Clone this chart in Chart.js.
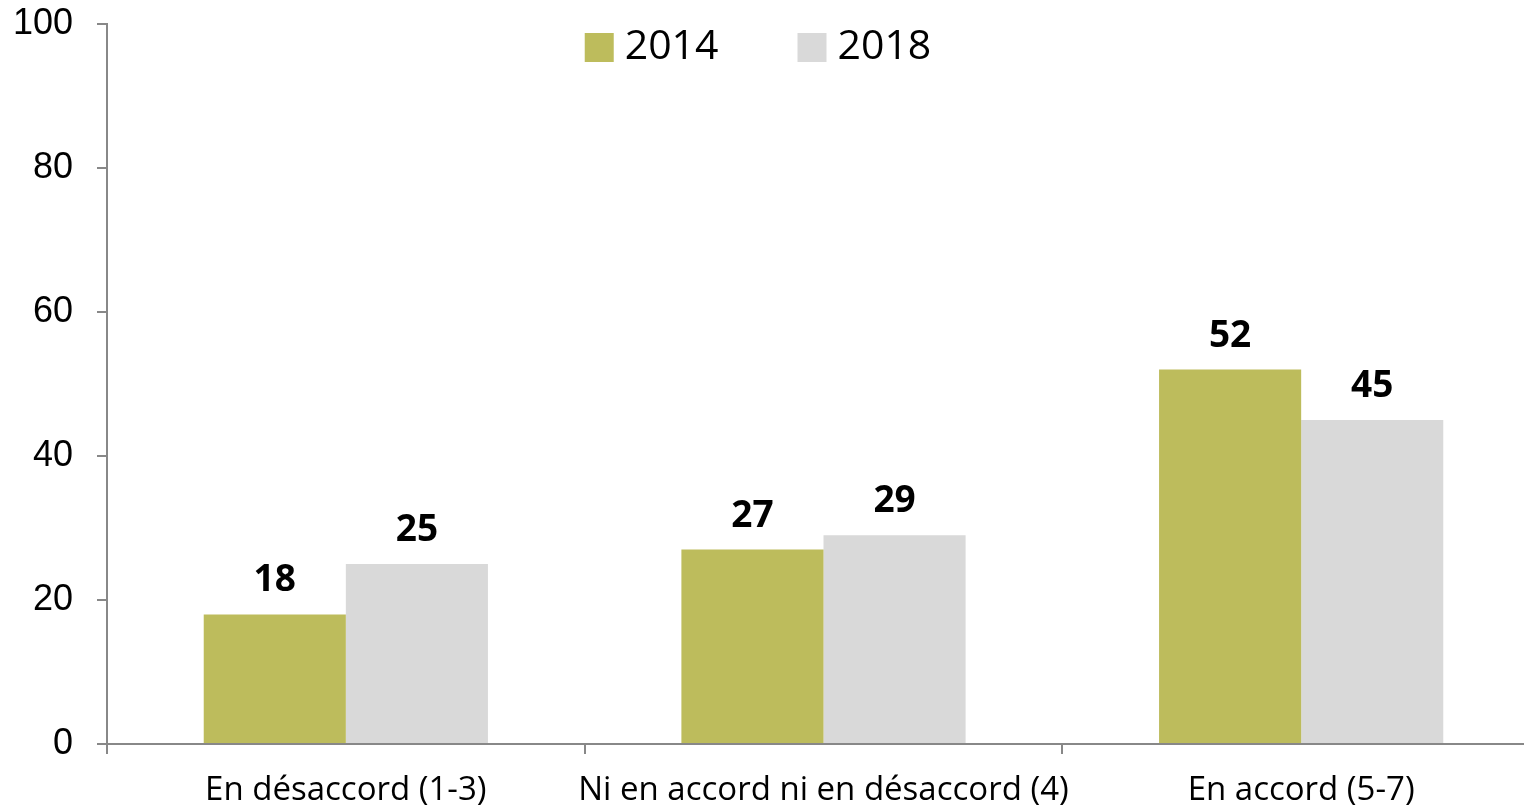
<!DOCTYPE html>
<html><head><meta charset="utf-8">
<script src="https://cdn.jsdelivr.net/npm/chart.js@4"></script>
<style>
html,body{margin:0;padding:0;overflow:hidden;background:#fff;}
#wrap{position:relative;width:1540px;height:812px;}
</style></head>
<body><div id="wrap"><canvas id="c"></canvas></div>
<script>
const categories = ["En désaccord (1-3)", "Ni en accord ni en désaccord (4)", "En accord (5-7)"];
const seriesNames = ["2014", "2018"];
const values2014 = [18, 27, 52];
const values2018 = [25, 29, 45];
const yTicks = [0, 20, 40, 60, 80, 100];
const colors = ["#BDBC5C", "#D9D9D9"];

const valueLabels = {
  id: 'valueLabels',
  afterDatasetsDraw(chart) {
    const ctx = chart.ctx;
    ctx.save();
    ctx.font = 'bold 37px "Open Sans"';
    ctx.fillStyle = '#000';
    ctx.textAlign = 'center';
    ctx.textBaseline = 'alphabetic';
    chart.data.datasets.forEach((ds, i) => {
      chart.getDatasetMeta(i).data.forEach((bar, j) => {
        ctx.fillText(String(ds.data[j]), bar.x, bar.y - 23);
      });
    });
    ctx.restore();
  }
};

const customLegend = {
  id: 'customLegend',
  afterDraw(chart) {
    const ctx = chart.ctx;
    ctx.save();
    ctx.font = '41px "Open Sans"';
    ctx.textBaseline = 'middle';
    const box = 29, gapText = 11, gapItem = 79;
    const widths = chart.data.datasets.map(ds => box + gapText + ctx.measureText(ds.label).width);
    const total = widths.reduce((a, b) => a + b, 0) + gapItem * (widths.length - 1);
    let x = 758 - total / 2;
    const yc = 47.5;
    chart.data.datasets.forEach((ds, i) => {
      ctx.fillStyle = ds.backgroundColor;
      ctx.fillRect(x, yc - box / 2, box, box);
      ctx.fillStyle = '#000';
      ctx.textAlign = 'left';
      ctx.fillText(ds.label, x + box + gapText, yc);
      x += widths[i] + gapItem;
    });
    ctx.restore();
  }
};

new Chart(document.getElementById('c'), {
  type: 'bar',
  data: {
    labels: categories,
    datasets: [
      { label: seriesNames[0], data: values2014, backgroundColor: colors[0], categoryPercentage: 0.595, barPercentage: 1 },
      { label: seriesNames[1], data: values2018, backgroundColor: colors[1], categoryPercentage: 0.595, barPercentage: 1 }
    ]
  },
  options: {
    responsive: true,
    maintainAspectRatio: false,
    animation: false,
    layout: { padding: { top: 24, right: 0, bottom: 0, left: 0 } },
    plugins: { legend: { display: false }, tooltip: { enabled: false } },
    scales: {
      x: {
        grid: { display: true, drawOnChartArea: false, offset: true, color: '#888', lineWidth: 2, tickLength: 10 },
        border: { display: true, color: '#888', width: 2 },
        ticks: { color: '#000', font: { family: '"Open Sans"', size: 33 }, padding: 17, maxRotation: 0, minRotation: 0, autoSkip: false },
        afterFit(scale) { scale.height = 68; scale.paddingLeft = 0; scale.paddingRight = 0; }
      },
      y: {
        min: 0, max: 100,
        afterBuildTicks(scale) { scale.ticks = yTicks.map(v => ({ value: v })); },
        grid: { display: true, drawOnChartArea: false, color: '#888', lineWidth: 2, tickLength: 10 },
        border: { display: true, color: '#888', width: 2 },
        ticks: { color: '#000', font: { family: '"Liberation Sans"', size: 36 }, padding: 24 },
        afterFit(scale) { scale.width = 107; scale.paddingTop = 0; scale.paddingBottom = 0; }
      }
    }
  },
  plugins: [valueLabels, customLegend]
});
</script></body></html>
